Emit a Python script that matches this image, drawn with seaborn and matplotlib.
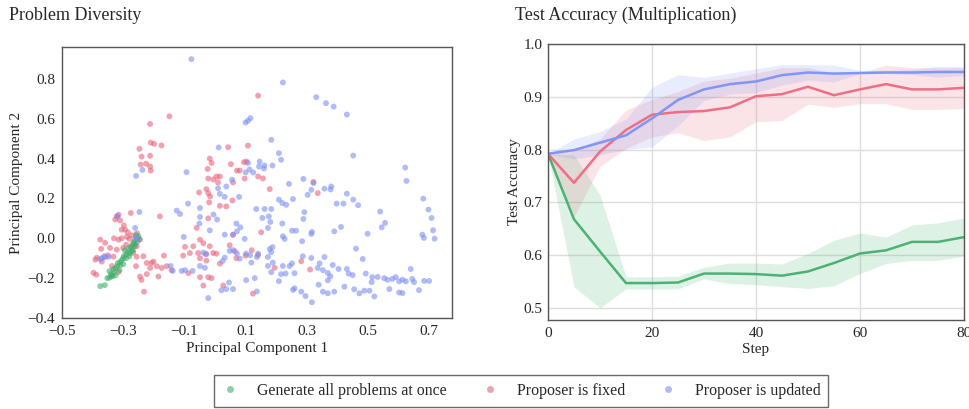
import numpy as np
import pandas as pd
import matplotlib
matplotlib.use("Agg")
import matplotlib.pyplot as plt
from matplotlib.lines import Line2D
import seaborn as sns

# series names and colours
labels = ["Generate all problems at once", "Proposer is fixed", "Proposer is updated"]
colors = ["#3fae6a", "#e9637b", "#7d90f2"]

# PCA points (x, y)
green_pc = [(-0.375, -0.24), (-0.36, -0.235), (-0.352, -0.20), (-0.345, -0.198), (-0.338, -0.19),
            (-0.34, -0.18), (-0.33, -0.17), (-0.332, -0.155), (-0.325, -0.15), (-0.32, -0.14),
            (-0.318, -0.125), (-0.31, -0.12), (-0.305, -0.11), (-0.30, -0.10), (-0.31, -0.135),
            (-0.298, -0.09), (-0.29, -0.08), (-0.285, -0.07), (-0.295, -0.06), (-0.282, -0.05),
            (-0.275, -0.045), (-0.27, -0.03), (-0.265, -0.02), (-0.262, -0.01), (-0.255, 0.0),
            (-0.25, 0.01), (-0.258, 0.015), (-0.268, -0.06), (-0.278, -0.075), (-0.345, -0.165),
            (-0.325, -0.185), (-0.312, -0.16), (-0.30, -0.13), (-0.29, -0.10), (-0.28, -0.09),
            (-0.272, -0.065), (-0.262, -0.04), (-0.255, -0.02), (-0.248, -0.005), (-0.335, -0.19)]

pink_pc = [(-0.149, 0.612), (-0.212, 0.574), (-0.21, 0.48), (-0.199, 0.474), (-0.175, 0.466),
           (-0.247, 0.449), (-0.225, 0.374), (-0.24, 0.41), (-0.212, 0.414), (-0.243, 0.37),
           (-0.212, 0.36), (-0.21, 0.34), (0.141, 0.716),
           (0.043, 0.457), (0.108, 0.465), (0.052, 0.372), (-0.017, 0.40), (-0.011, 0.378),
           (0.072, 0.34), (0.081, 0.34), (0.095, 0.382), (0.103, 0.385), (-0.024, 0.348),
           (0.005, 0.31), (0.016, 0.31), (-0.005, 0.295), (-0.022, 0.30), (0.01, 0.28),
           (0.059, 0.28), (0.097, 0.30), (0.141, 0.31), (0.157, 0.30), (0.179, 0.247),
           (-0.028, 0.247), (-0.052, 0.23), (-0.022, 0.227), (-0.016, 0.21), (-0.019, 0.18),
           (0.057, 0.19), (0.016, 0.163), (0.037, 0.16), (-0.022, 0.10), (-0.06, 0.052),
           (0.059, 0.018), (0.151, 0.03), (0.322, 0.283), (0.336, 0.227), (0.282, -0.115),
           (0.311, -0.157),
           (-0.104, -0.087), (-0.098, -0.043), (-0.071, -0.04), (-0.049, -0.007), (-0.038, -0.025),
           (-0.017, -0.04), (-0.082, -0.074), (-0.055, -0.074), (-0.049, -0.10), (-0.03, -0.078),
           (-0.006, -0.074), (0.005, -0.077), (-0.028, -0.112), (-0.087, -0.175), (-0.049, -0.195),
           (-0.022, -0.195), (-0.011, -0.20), (-0.038, -0.237), (0.016, -0.127), (0.048, -0.035),
           (0.027, -0.237), (0.124, -0.278), (0.195, -0.148), (0.141, -0.084), (0.10, -0.087),
           (0.065, -0.065), (0.12, -0.06), (0.07, -0.1),
           (-0.321, 0.11), (-0.315, 0.118), (-0.326, 0.094), (-0.31, 0.09), (-0.294, 0.043),
           (-0.275, 0.127), (-0.305, 0.043), (-0.288, 0.007), (-0.315, -0.007), (-0.28, -0.003),
           (-0.272, 0.015), (-0.272, -0.043), (-0.256, -0.04), (-0.267, -0.073), (-0.256, -0.093),
           (-0.359, -0.023), (-0.375, -0.007), (-0.343, -0.048), (-0.372, -0.053), (-0.386, -0.097),
           (-0.391, -0.107), (-0.397, -0.173), (-0.388, -0.183), (-0.37, -0.117), (-0.332, -0.092),
           (-0.337, -0.139), (-0.315, -0.169), (-0.321, -0.057), (-0.30, -0.048), (-0.29, -0.032),
           (-0.262, -0.032), (-0.255, 0.025), (-0.245, -0.007), (-0.18, 0.11), (-0.234, -0.09),
           (-0.223, -0.124), (-0.207, -0.124), (-0.212, -0.149), (-0.19, -0.14), (-0.174, -0.149),
           (-0.185, -0.192), (-0.245, -0.192), (-0.24, -0.209), (-0.232, -0.268), (-0.223, -0.18),
           (-0.258, -0.14), (-0.201, -0.117), (-0.167, -0.087), (-0.142, -0.16), (-0.158, -0.14),
           (-0.35, -0.085), (-0.36, -0.095), (-0.305, 0.0), (-0.285, 0.03), (-0.298, 0.065),
           (-0.33, 0.0)]

blue_pc = [(-0.077, 0.899), (0.222, 0.782), (0.331, 0.708), (0.363, 0.678), (0.388, 0.661),
           (0.431, 0.621), (0.10, 0.581), (0.116, 0.603), (0.108, 0.59), (0.184, 0.494),
           (0.209, 0.427), (0.216, 0.394), (0.452, 0.415), (0.012, 0.456), (-0.093, 0.332),
           (-0.258, 0.313), (-0.237, 0.343), (0.108, 0.378), (0.10, 0.331), (0.113, 0.345),
           (0.146, 0.385), (0.162, 0.365), (0.144, 0.36), (0.16, 0.35), (0.125, 0.33),
           (0.188, 0.365), (0.01, 0.251), (0.016, 0.223), (0.037, 0.26), (0.056, 0.294),
           (0.032, 0.208), (0.079, 0.208), (0.242, 0.273), (0.255, 0.197), (0.209, 0.194),
           (0.22, 0.177), (0.233, 0.168), (0.289, 0.298), (0.315, 0.243), (0.303, 0.218),
           (0.322, 0.277), (0.358, 0.249), (0.38, 0.26), (0.378, 0.245), (0.398, 0.174),
           (0.42, 0.174), (0.431, 0.224), (0.452, 0.194), (0.468, 0.166), (0.622, 0.355),
           (0.626, 0.288), (0.681, 0.199), (0.698, 0.144), (0.708, 0.102), (0.713, 0.04),
           (0.718, -0.002), (0.678, 0.018), (0.683, 0.002), (0.54, 0.134), (0.556, 0.077),
           (0.545, 0.055), (0.499, 0.023), (0.39, 0.035), (0.412, 0.057), (0.317, 0.032),
           (0.315, 0.022), (0.285, -0.015), (0.252, 0.038), (0.265, 0.038), (0.289, 0.097),
           (0.292, 0.131), (0.22, 0.074), (0.155, 0.102), (0.162, 0.147), (0.135, 0.147),
           (0.176, 0.11), (0.181, 0.082), (0.173, 0.052), (0.222, 0.01), (0.228, -0.003),
           (0.184, 0.147), (0.097, -0.003), (0.07, 0.074), (0.083, 0.055), (0.072, 0.035),
           (0.059, 0.018), (0.032, 0.018), (-0.017, 0.04), (0.007, 0.094), (-0.005, 0.119),
           (-0.049, 0.152), (-0.125, 0.139), (-0.114, 0.122), (-0.102, 0.007), (-0.088, 0.174),
           (-0.049, 0.107), (-0.051, 0.074), (-0.145, -0.139), (-0.138, -0.164), (-0.109, -0.164),
           (-0.098, -0.16), (-0.073, -0.164), (-0.049, -0.139), (-0.033, -0.148), (-0.028, -0.08),
           (-0.038, -0.072), (0.025, -0.114), (0.032, -0.097), (0.048, -0.064), (0.059, -0.059),
           (0.072, -0.077), (0.081, -0.102), (0.102, -0.077), (0.115, -0.085), (0.141, -0.077),
           (0.137, -0.094), (0.173, -0.094), (0.179, -0.054), (0.188, -0.044), (0.184, -0.07),
           (0.173, -0.139), (0.189, -0.122), (0.222, -0.139), (0.231, -0.177), (0.216, -0.18),
           (0.244, -0.139), (0.252, -0.126), (0.26, -0.175), (0.102, -0.21), (0.13, -0.20),
           (0.119, -0.122), (0.137, -0.267), (0.046, -0.222), (0.037, -0.255), (0.021, -0.261),
           (-0.022, -0.30), (0.059, -0.255), (0.184, -0.17), (0.287, -0.09), (0.315, -0.099),
           (0.358, -0.094), (0.342, -0.126), (0.336, -0.149), (0.353, -0.16), (0.369, -0.174),
           (0.377, -0.191), (0.369, -0.211), (0.385, -0.134), (0.404, -0.154), (0.431, -0.154),
           (0.437, -0.177), (0.45, -0.185), (0.461, -0.052), (0.483, -0.104), (0.493, -0.177),
           (0.514, -0.195), (0.512, -0.22), (0.532, -0.194), (0.553, -0.20), (0.564, -0.208),
           (0.58, -0.204), (0.591, -0.195), (0.602, -0.216), (0.613, -0.208), (0.624, -0.216),
           (0.64, -0.154), (0.645, -0.204), (0.651, -0.22), (0.70, -0.214), (0.684, -0.214),
           (0.613, -0.275), (0.602, -0.272), (0.57, -0.255), (0.521, -0.292), (0.505, -0.263),
           (0.488, -0.263), (0.472, -0.276), (0.455, -0.256), (0.423, -0.243), (0.39, -0.268),
           (0.369, -0.276), (0.353, -0.268), (0.339, -0.233), (0.317, -0.321), (0.296, -0.29),
           (0.282, -0.268), (0.26, -0.251), (0.255, -0.259), (0.209, -0.215), (0.667, -0.26),
           (-0.375, -0.105), (-0.37, -0.1), (-0.362, -0.09), (-0.348, -0.093), (-0.258, 0.007),
           (-0.254, -0.005), (-0.261, 0.052), (-0.319, 0.11), (-0.247, 0.132)]

# test accuracy curves
steps = [0, 5, 10, 15, 20, 25, 30, 35, 40, 45, 50, 55, 60, 65, 70, 75, 80]
green_acc = [0.792, 0.668, 0.607, 0.547, 0.547, 0.548, 0.565, 0.565, 0.564, 0.561,
             0.569, 0.585, 0.603, 0.609, 0.625, 0.625, 0.634]
green_lo = [0.792, 0.540, 0.500, 0.536, 0.536, 0.536, 0.555, 0.546, 0.544, 0.540,
            0.537, 0.542, 0.565, 0.584, 0.590, 0.590, 0.598]
green_hi = [0.792, 0.790, 0.714, 0.559, 0.559, 0.560, 0.577, 0.585, 0.585, 0.583,
            0.603, 0.628, 0.642, 0.634, 0.657, 0.661, 0.670]
pink_acc = [0.792, 0.737, 0.796, 0.837, 0.866, 0.871, 0.873, 0.880, 0.901, 0.905,
            0.919, 0.903, 0.914, 0.924, 0.914, 0.914, 0.917]
pink_lo = [0.792, 0.673, 0.768, 0.802, 0.824, 0.832, 0.817, 0.824, 0.853, 0.855,
           0.886, 0.880, 0.887, 0.887, 0.876, 0.876, 0.878]
pink_hi = [0.792, 0.800, 0.820, 0.875, 0.895, 0.910, 0.930, 0.935, 0.945, 0.955,
           0.955, 0.945, 0.945, 0.960, 0.955, 0.955, 0.955]
blue_acc = [0.792, 0.799, 0.813, 0.827, 0.859, 0.894, 0.914, 0.924, 0.929, 0.941,
            0.946, 0.944, 0.945, 0.946, 0.946, 0.947, 0.947]
blue_lo = [0.792, 0.782, 0.790, 0.800, 0.805, 0.845, 0.893, 0.905, 0.908, 0.922,
           0.932, 0.928, 0.944, 0.944, 0.942, 0.937, 0.940]
blue_hi = [0.792, 0.820, 0.834, 0.858, 0.918, 0.942, 0.937, 0.945, 0.953, 0.961,
           0.961, 0.960, 0.950, 0.950, 0.952, 0.958, 0.957]

sns.set_theme(style="white")
plt.rcParams['font.family'] = ['Liberation Serif', 'DejaVu Serif']
plt.rcParams['axes.edgecolor'] = '#555555'
plt.rcParams['axes.linewidth'] = 1.0

fig = plt.figure(figsize=(9.69, 4.09), dpi=100)
ax1 = fig.add_axes([0.064, 0.2225, 0.4025, 0.6626])
ax2 = fig.add_axes([0.5655, 0.2176, 0.4293, 0.6748])

# --- left: scatter of principal components
pc_frames = []
for name, pts in [(labels[1], pink_pc), (labels[0], green_pc), (labels[2], blue_pc)]:
    d = pd.DataFrame(pts, columns=['pc1', 'pc2'])
    d['method'] = name
    pc_frames.append(d)
pc = pd.concat(pc_frames, ignore_index=True)

sns.scatterplot(data=pc, x='pc1', y='pc2', hue='method', palette=dict(zip(labels, colors)),
                s=18, alpha=0.6, edgecolor='none', legend=False, ax=ax1)
ax1.set_xlim(-0.5, 0.775)
ax1.set_ylim(-0.4, 0.96)
ax1.set_xticks(np.arange(-0.5, 0.71, 0.2))
ax1.set_yticks(np.arange(-0.4, 0.81, 0.2))
ax1.set_xticklabels(['−0.5', '−0.3', '−0.1', '0.1', '0.3', '0.5', '0.7'])
ax1.set_yticklabels(['−0.4', '−0.2', '0.0', '0.2', '0.4', '0.6', '0.8'])
ax1.set_xlabel('Principal Component 1', fontsize=11, labelpad=3)
ax1.set_ylabel('Principal Component 2', fontsize=11, labelpad=3)
ax1.tick_params(labelsize=11, length=0)
ax1.tick_params(axis='x', pad=5)
ax1.tick_params(axis='y', pad=5)
fig.text(0.009, 0.962, 'Problem Diversity', fontsize=13, va='center')

# --- right: test accuracy
acc = pd.DataFrame({'step': steps * 3,
                    'acc': green_acc + pink_acc + blue_acc,
                    'method': [labels[0]] * 17 + [labels[1]] * 17 + [labels[2]] * 17})
bands = [(green_lo, green_hi), (pink_lo, pink_hi), (blue_lo, blue_hi)]
for c, (lo, hi) in zip(colors, bands):
    ax2.fill_between(steps, lo, hi, color=c, alpha=0.17, linewidth=0)
line_colors = ["#4bb274", "#ef6e86", "#7f96f7"]
sns.lineplot(data=acc, x='step', y='acc', hue='method', palette=dict(zip(labels, line_colors)),
             linewidth=1.8, legend=False, ax=ax2)
ax2.set_xlim(0, 80)
ax2.set_ylim(0.477, 1.0)
ax2.set_xticks([0, 20, 40, 60, 80])
ax2.set_yticks([0.5, 0.6, 0.7, 0.8, 0.9, 1.0])
ax2.grid(True, color='#dddddd', linewidth=1.0)
ax2.set_axisbelow(True)
ax2.set_xlabel('Step', fontsize=11, labelpad=2)
ax2.set_ylabel('Test Accuracy', fontsize=11, labelpad=2)
ax2.tick_params(labelsize=11, length=0)
ax2.tick_params(axis='x', pad=5)
ax2.tick_params(axis='y', pad=4)
fig.text(0.531, 0.962, 'Test Accuracy (Multiplication)', fontsize=13, va='center')

# --- shared legend at the bottom
handles = [Line2D([], [], marker='o', linestyle='none', markersize=5,
                  markerfacecolor=c, markeredgecolor='none', alpha=0.6) for c in colors]
leg = fig.legend(handles, labels, loc='upper center', bbox_to_anchor=(0.538, 0.083),
                 ncol=3, frameon=True, fancybox=False, fontsize=11.4, handletextpad=1.2,
                 columnspacing=2.2, borderpad=0.5, handlelength=1.0, borderaxespad=0)
leg.get_frame().set_edgecolor('#444444')
leg.get_frame().set_linewidth(1.0)

plt.savefig('out.png', dpi=100)
